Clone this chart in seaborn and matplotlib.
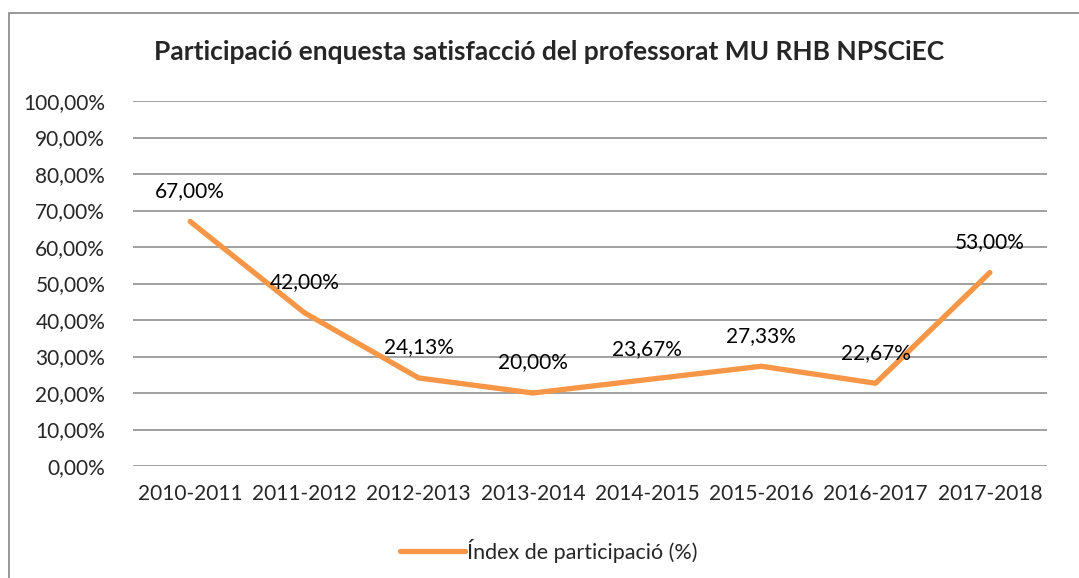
import matplotlib
matplotlib.use("Agg")
import matplotlib.pyplot as plt
import matplotlib.patches as mpatches
import seaborn as sb
import pandas as pd

#%% Dades

cursos = ['2010-2011', '2011-2012', '2012-2013', '2013-2014',
          '2014-2015', '2015-2016', '2016-2017', '2017-2018']
participacio = [0.67, 0.42, 0.2413, 0.20, 0.2367, 0.2733, 0.2267, 0.53]
etiquetes_y = [i / 10 for i in range(11)]
serie = 'Índex de participació (%)'
titol = 'Participació enquesta satisfacció del professorat MU RHB NPSCiEC'

df = pd.DataFrame({'curs': cursos, 'valor': participacio})

def pct(v):
    return ('%.2f%%' % (v * 100)).replace('.', ',')

#%% Figura

sb.set_style('white')
plt.rcParams['font.family'] = ['Lato', 'DejaVu Sans']

W, H = 1079, 578
fig = plt.figure(figsize=(W / 100, H / 100), dpi=100)
ax = fig.add_axes([133 / W, 1 - 466 / H, 914 / W, 365 / H])

# marc exterior del gràfic
fig.patches.append(mpatches.Rectangle((9 / W, -0.1), 1.2, 1 - 13 / H + 0.1,
                                      transform=fig.transFigure, fill=False,
                                      edgecolor='#868686', linewidth=1.2))

sb.lineplot(data=df, x='curs', y='valor', ax=ax, color='#F79646',
            linewidth=3.8, sort=False, label=serie, legend=False)

for i, v in enumerate(participacio):
    ax.annotate(pct(v), (i, v), xytext=(0, 22), textcoords='offset points',
                ha='center', va='center', fontsize=15, color='#000000')

ax.set_xlim(-0.5, len(cursos) - 0.5)
ax.set_ylim(0, 1)
ax.set_yticks(etiquetes_y)
ax.set_yticklabels([pct(v) for v in etiquetes_y])
for v in etiquetes_y:
    ax.axhline(v, color='#868686', linewidth=1.1, zorder=0)
ax.tick_params(axis='y', length=0, pad=20, labelsize=15)
ax.tick_params(axis='x', length=0, pad=13, labelsize=15)
ax.set_xlabel('')
ax.set_ylabel('')
for s in ax.spines.values():
    s.set_visible(False)
ax.grid(False)

fig.text(549 / W, 1 - 52 / H, titol, ha='center', va='center',
         fontsize=19, fontweight='bold')

h, l = ax.get_legend_handles_labels()
fig.legend(h, l, loc='center', bbox_to_anchor=(549 / W, 1 - 551 / H),
           frameon=False, fontsize=15.5, handlelength=3.0, handletextpad=0.1)

fig.savefig('out.png', dpi=100)
